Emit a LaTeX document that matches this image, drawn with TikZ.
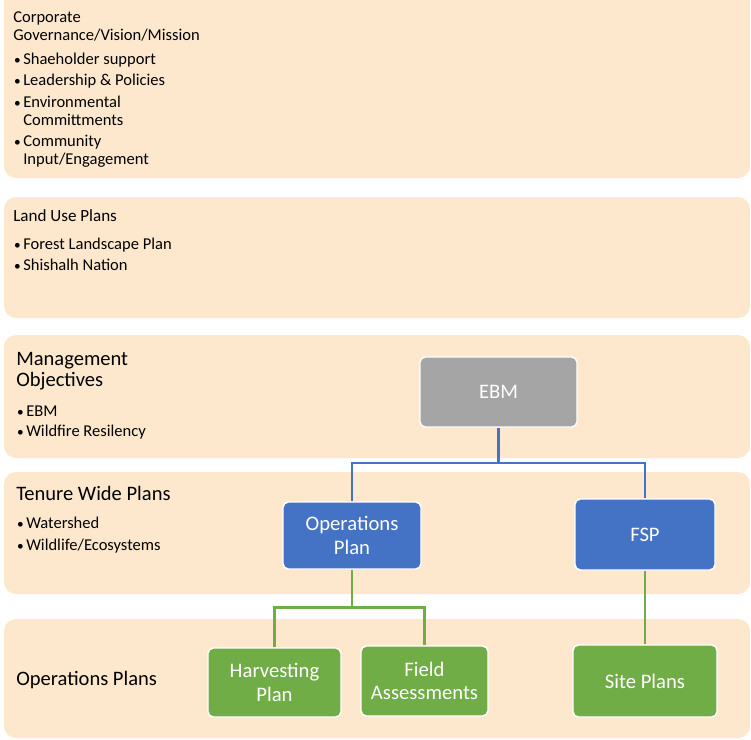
\documentclass[tikz,border=0pt]{standalone}
\usepackage{fontspec}
\setmainfont{Carlito}
\definecolor{bandfill}{HTML}{FEE8CD}
\definecolor{boxblue}{HTML}{4472C4}
\definecolor{boxgreen}{HTML}{70AD47}
\definecolor{boxgray}{HTML}{A5A5A5}
\begin{document}
\begin{tikzpicture}[x=0.75pt,y=-0.75pt,
  band/.style={fill=bandfill, draw=none, rounded corners=9pt},
  lbl/.style={anchor=base west, inner sep=0pt, font=\fontsize{12.4}{14}\selectfont},
  bigl/.style={anchor=base west, inner sep=0pt, font=\fontsize{15.4}{18}\selectfont},
  bul/.style={lbl, execute at begin node={\llap{{\fontsize{10}{12}\selectfont\textbullet}\hspace{1.8pt}}}},
  chartbox/.style={draw=white, line width=1.1pt, rounded corners=4pt, text=white,
    align=center, inner sep=0pt, font=\fontsize{15.5}{17.5}\selectfont},
  blueline/.style={draw=boxblue, line width=1.6pt},
  greenline/.style={draw=boxgreen, line width=1.6pt}
]
\useasboundingbox (0,0) rectangle (751,740);
% bands
\fill[band] (4,-15) rectangle (750,178);
\fill[band] (4,197) rectangle (750,318);
\fill[band] (4,335) rectangle (750,458);
\fill[band] (4,472) rectangle (750,594);
\fill[band] (4,619) rectangle (750,738);

% band 1 text
\node[lbl] (t1a) at (13,22.7) {Corporate};
\node[lbl] (t1b) at (13,40) {Governance/Vision/Mission};
\node[bul] (b11) at (23,64) {Shaeholder support};
\node[bul] (b12) at (23,85) {Leadership \& Policies};
\node[bul] (b13) at (23,107.3) {Environmental};
\node[lbl] (b13b) at (23,125) {Committments};
\node[bul] (b14) at (23,146.7) {Community};
\node[lbl] (b14b) at (23,164.3) {Input/Engagement};

% band 2 text
\node[lbl, font=\fontsize{12.8}{15}\selectfont] (t2) at (13,221.7) {Land Use Plans};
\node[bul] (b21) at (23,249.3) {Forest Landscape Plan};
\node[bul] (b22) at (23,270) {Shishalh Nation};

% band 3 text
\node[bigl] (t3a) at (16,365) {Management};
\node[bigl] (t3b) at (16,386.7) {Objectives};
\node[bul] (b31) at (26,416) {EBM};
\node[bul] (b32) at (26,436.7) {Wildfire Resilency};

% band 4 text
\node[bigl] (t4) at (16,500.7) {Tenure Wide Plans};
\node[bul] (b41) at (26,528.3) {Watershed};
\node[bul] (b42) at (26,550.7) {Wildlife/Ecosystems};

% band 5 text
\node[bigl] (t5) at (16,685) {Operations Plans};

% chart boxes
\node[chartbox, fill=boxgray, minimum width=117.75pt, minimum height=52.5pt] (ebm) at (498.5,392) {EBM};
\node[chartbox, fill=boxblue, minimum width=103.5pt, minimum height=50.25pt] (ops) at (352,535.5) {Operations\\Plan};
\node[chartbox, fill=boxblue, minimum width=105pt, minimum height=53.25pt] (fsp) at (645,534.5) {FSP};
\node[chartbox, fill=boxgreen, minimum width=99.75pt, minimum height=51.75pt] (harv) at (274.5,682.5) {Harvesting\\Plan};
\node[chartbox, fill=boxgreen, minimum width=95.25pt, minimum height=52.5pt] (field) at (424.5,681) {Field\\Assessments};
\node[chartbox, fill=boxgreen, minimum width=108pt, minimum height=54pt] (site) at (645,681) {Site Plans};

% connectors
\coordinate (bj) at (498.5,463);
\coordinate (gj) at (352,607.5);
\draw[blueline] (ebm.south) -- (bj) -| (ops.north);
\draw[blueline] (bj) -| (fsp.north);
\draw[greenline] (ops.south) -- (gj) -| (harv.north);
\draw[greenline] (gj) -| (field.north);
\draw[greenline] (fsp.south) -- (site.north);
\end{tikzpicture}
\end{document}
